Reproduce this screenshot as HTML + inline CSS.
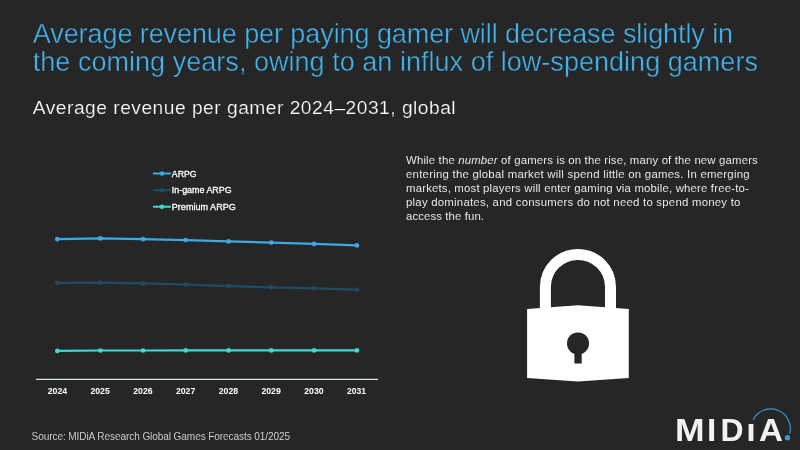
<!DOCTYPE html>
<html><head><meta charset="utf-8">
<style>
html,body{margin:0;padding:0;}
body{width:800px;height:450px;background:#262626;overflow:hidden;position:relative;font-family:"Liberation Sans",sans-serif;}
.abs{position:absolute;white-space:nowrap;}
#title{left:32.8px;top:20.3px;color:#41b3ee;font-size:27px;line-height:28px;}
#title span{display:block;}
#title{-webkit-text-stroke:0.4px #262626;}#sub{-webkit-text-stroke:0.22px #262626;}#para{-webkit-text-stroke:0.08px #262626;}#src{-webkit-text-stroke:0.08px #262626;}
#t1{letter-spacing:-0.08px;}
#t2{letter-spacing:0.03px;}
#sub{left:32.8px;top:97.2px;color:#ffffff;font-size:19.2px;line-height:22px;letter-spacing:0.5px;}
#para{left:406px;top:153px;color:#fafafa;font-size:11.4px;line-height:14.03px;letter-spacing:0.14px;}
#para span{display:block;}
#p1{letter-spacing:0.155px;}#p2{letter-spacing:0.24px;}#p3{letter-spacing:0.17px;}#p4{letter-spacing:0.23px;}#p5{letter-spacing:0.10px;}
#src{left:31.6px;top:430px;color:#dadada;font-size:10.1px;line-height:14px;letter-spacing:-0.11px;}
svg{position:absolute;left:0;top:0;}
svg text{font-family:"Liberation Sans",sans-serif;}
</style></head><body>
<div id="title" class="abs"><span id="t1">Average revenue per paying gamer will decrease slightly in</span><span id="t2">the coming years, owing to an influx of low-spending gamers</span></div>
<div id="sub" class="abs">Average revenue per gamer 2024–2031, global</div>
<div id="para" class="abs"><span id="p1">While the <i>number</i> of gamers is on the rise, many of the new gamers</span><span id="p2">entering the global market will spend little on games. In emerging</span><span id="p3">markets, most players will enter gaming via mobile, where free-to-</span><span id="p4">play dominates, and consumers do not need to spend money to</span><span id="p5">access the fun.</span></div>
<div id="src" class="abs">Source: MIDiA Research Global Games Forecasts 01/2025</div>
<svg width="800" height="450" viewBox="0 0 800 450">
<!-- chart -->
<line x1="36" y1="379.3" x2="378" y2="379.3" stroke="#d6e2ea" stroke-width="1.25"/>
<g fill="#ffffff" font-size="9.5" font-weight="bold" text-anchor="middle">
<text x="57.4" y="394.4" textLength="19.4" lengthAdjust="spacingAndGlyphs">2024</text><text x="100.1" y="394.4" textLength="19.4" lengthAdjust="spacingAndGlyphs">2025</text><text x="142.9" y="394.4" textLength="19.4" lengthAdjust="spacingAndGlyphs">2026</text><text x="185.6" y="394.4" textLength="19.4" lengthAdjust="spacingAndGlyphs">2027</text><text x="228.4" y="394.4" textLength="19.4" lengthAdjust="spacingAndGlyphs">2028</text><text x="271.1" y="394.4" textLength="19.4" lengthAdjust="spacingAndGlyphs">2029</text><text x="313.9" y="394.4" textLength="19.4" lengthAdjust="spacingAndGlyphs">2030</text><text x="356.4" y="394.4" textLength="19" lengthAdjust="spacingAndGlyphs">2031</text>
</g>
<g id="s1" stroke="#3ea8e4" fill="#3ea8e4">
<polyline fill="none" stroke-width="2.2" points="57.3,239.2 100.4,238.4 143.1,239.2 185.7,240.1 228.6,241.4 271.3,242.6 314.2,243.9 356.9,245.4"/>
<g stroke="none"><circle cx="57.3" cy="239.2" r="2.35"/><circle cx="100.4" cy="238.4" r="2.35"/><circle cx="143.1" cy="239.2" r="2.35"/><circle cx="185.7" cy="240.1" r="2.35"/><circle cx="228.6" cy="241.4" r="2.35"/><circle cx="271.3" cy="242.6" r="2.35"/><circle cx="314.2" cy="243.9" r="2.35"/><circle cx="356.9" cy="245.4" r="2.35"/></g>
</g>
<g id="s2" stroke="#1f4b69" fill="#1f4b69">
<polyline fill="none" stroke-width="2.2" points="57.3,282.8 100.4,282.6 143.1,283.4 185.7,284.5 228.6,286.2 271.3,287.3 314.2,288.3 356.9,289.6"/>
<g stroke="none"><circle cx="57.3" cy="282.8" r="2.35"/><circle cx="100.4" cy="282.6" r="2.35"/><circle cx="143.1" cy="283.4" r="2.35"/><circle cx="185.7" cy="284.5" r="2.35"/><circle cx="228.6" cy="286.2" r="2.35"/><circle cx="271.3" cy="287.3" r="2.35"/><circle cx="314.2" cy="288.3" r="2.35"/><circle cx="356.9" cy="289.6" r="2.35"/></g>
</g>
<g id="s3" stroke="#45d8d0" fill="#45d8d0">
<polyline fill="none" stroke-width="2.2" points="57.3,350.9 100.4,350.5 143.1,350.5 185.7,350.4 228.6,350.4 271.3,350.4 314.2,350.4 356.9,350.4"/>
<g stroke="none"><circle cx="57.3" cy="350.9" r="2.35"/><circle cx="100.4" cy="350.5" r="2.35"/><circle cx="143.1" cy="350.5" r="2.35"/><circle cx="185.7" cy="350.4" r="2.35"/><circle cx="228.6" cy="350.4" r="2.35"/><circle cx="271.3" cy="350.4" r="2.35"/><circle cx="314.2" cy="350.4" r="2.35"/><circle cx="356.9" cy="350.4" r="2.35"/></g>
</g>
<!-- legend -->
<g font-size="9" fill="#ffffff" stroke="#ffffff" stroke-width="0.3">
<line x1="153" y1="173.5" x2="171" y2="173.5" stroke="#3ea8e4" stroke-width="2"/><circle cx="162" cy="173.5" r="2.2" stroke="none" fill="#3ea8e4"/>
<text x="171.8" y="176.6" textLength="24.8" lengthAdjust="spacingAndGlyphs">ARPG</text>
<line x1="153" y1="190.2" x2="171" y2="190.2" stroke="#1f4b69" stroke-width="2"/><circle cx="162" cy="190.2" r="2.2" stroke="none" fill="#1f4b69"/>
<text x="171.8" y="193.2" textLength="59.8" lengthAdjust="spacingAndGlyphs">In-game ARPG</text>
<line x1="153" y1="206.7" x2="171" y2="206.7" stroke="#45d8d0" stroke-width="2"/><circle cx="162" cy="206.7" r="2.2" stroke="none" fill="#45d8d0"/>
<text x="171.8" y="209.8" textLength="64" lengthAdjust="spacingAndGlyphs">Premium ARPG</text>
</g>
<!-- lock -->
<g id="lock">
<path d="M545.4,310 V286.9 a32.5,32.5 0 0 1 65.1,0 V310" fill="none" stroke="#ffffff" stroke-width="11"/>
<path d="M527.1,309 L578,305.3 L628.8,309 V377.9 L578,381.6 L527.1,377.9 Z" fill="#ffffff"/>
<circle cx="578" cy="343.4" r="11" fill="#262626"/>
<rect x="574.4" y="348" width="7.3" height="15.5" fill="#262626"/>
</g>
<!-- logo -->
<g id="logo">
<g font-size="31.3" font-weight="bold" fill="#f2f2f2">
<text transform="translate(675.0,440.6) scale(1.135,1)">M</text>
<text transform="translate(706.9,440.6) scale(1.07,1)">I</text>
<text transform="translate(720.4,440.6) scale(1.02,1)">D</text>
<text transform="translate(746.2,440.6) scale(1.1,1)">i</text>
<text transform="translate(759.0,440.6) scale(1.06,1)">A</text>
</g>
<rect x="746" y="415" width="9" height="8.6" fill="#262626"/>
<path d="M753,420 A19.7,19.7 0 0 1 789.6,434.2" fill="none" stroke="#3a9ad9" stroke-width="1.1"/>
<circle cx="787.5" cy="437.7" r="2.7" fill="#3a9ad9"/>
</g>
</svg>
</body></html>
